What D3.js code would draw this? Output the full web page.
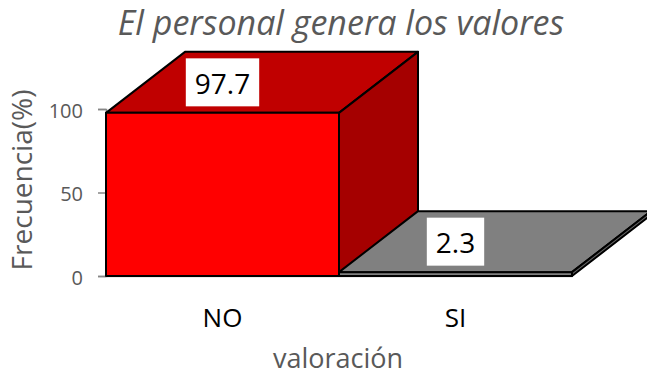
<!DOCTYPE html>
<html>
<head>
<meta charset="utf-8">
<script src="https://cdn.jsdelivr.net/npm/d3@7"></script>
<style>
html, body { margin: 0; padding: 0; background: #fff; overflow: hidden; }
svg { display: block; font-family: "Open Sans", sans-serif; }
</style>
</head>
<body>
<svg id="chart" width="647" height="373"></svg>
<script>
const categories = ["NO", "SI"];
const values = [97.7, 2.3];
const yTicks = [0, 50, 100];
const frontColors = ["#ff0000", "#808080"];
const topColors = ["#c00000", "#808080"];
const sideColors = ["#a50000", "#666666"];

const svg = d3.select("#chart");

const x = d3.scaleBand().domain(categories).range([106, 572]).padding(0);
const y = d3.scaleLinear().domain([0, 100]).range([276, 109]);

// profondeur de la 3d
const depthX = 79;
const depthY = -61;

// axe gauche
const yAxis = svg.append("g")
    .attr("transform", "translate(106,0)")
    .call(d3.axisLeft(y).tickValues(yTicks).tickSize(8).tickPadding(15).tickFormat(d3.format("d")));
yAxis.selectAll("path, line").attr("stroke", "#868686").attr("stroke-width", 1.5);
yAxis.selectAll("text")
    .attr("fill", "#595959")
    .attr("font-size", 20)
    .attr("font-family", "Open Sans")
    .attr("dy", "0.42em");

// axe du bas
const xAxis = svg.append("g")
    .attr("transform", "translate(0,276)")
    .call(d3.axisBottom(x).tickSize(0).tickPadding(33));
xAxis.select("path").attr("stroke", "#b0b0b0").attr("stroke-width", 1.5);
xAxis.selectAll("text").attr("fill", "#000").attr("font-size", 26).attr("font-family", "Open Sans");

const bars = svg.append("g")
    .selectAll("g")
    .data(categories)
    .enter()
    .append("g");

const outline = { stroke: "#000", width: 2 };

function poly(sel, pts, fill) {
    sel.append("polygon")
        .attr("points", pts.map(p => p.join(",")).join(" "))
        .attr("fill", fill)
        .attr("stroke", outline.stroke)
        .attr("stroke-width", outline.width)
        .attr("stroke-linejoin", "round");
}

bars.each(function (d, i) {
    const g = d3.select(this);
    const x0 = x(d);
    const x1 = x0 + x.bandwidth();
    const yTop = y(values[i]);
    const yBase = y(0);
    // face du dessus, côté, devant
    poly(g, [[x0, yTop], [x0 + depthX, yTop + depthY], [x1 + depthX, yTop + depthY], [x1, yTop]], topColors[i]);
    poly(g, [[x1, yTop], [x1 + depthX, yTop + depthY], [x1 + depthX, yBase + depthY], [x1, yBase]], sideColors[i]);
    poly(g, [[x0, yTop], [x1, yTop], [x1, yBase], [x0, yBase]], frontColors[i]);
});

// étiquettes
const labels = svg.append("g")
    .selectAll("g")
    .data(categories)
    .enter()
    .append("g")
    .attr("transform", (d, i) => `translate(${x(d) + x.bandwidth() / 2},${y(values[i]) + depthY / 2})`);

labels.append("text")
    .attr("text-anchor", "middle")
    .attr("dy", "0.4em")
    .attr("fill", "#000")
    .attr("font-size", 28)
    .text((d, i) => values[i]);

labels.insert("rect", "text")
    .each(function () {
        const b = this.parentNode.querySelector("text").getBBox();
        d3.select(this)
            .attr("x", b.x - 9)
            .attr("y", -24)
            .attr("width", b.width + 18)
            .attr("height", 48)
            .attr("fill", "#fff");
    });

svg.append("text")
    .attr("x", 341)
    .attr("y", 35)
    .attr("text-anchor", "middle")
    .attr("fill", "#595959")
    .attr("font-size", 34)
    .attr("font-style", "italic")
    .text("El personal genera los valores");

svg.append("text")
    .attr("x", 338)
    .attr("y", 368)
    .attr("text-anchor", "middle")
    .attr("fill", "#595959")
    .attr("font-size", 27)
    .text("valoración");

svg.append("text")
    .attr("transform", "translate(32,180) rotate(-90)")
    .attr("text-anchor", "middle")
    .attr("fill", "#595959")
    .attr("font-size", 28)
    .text("Frecuencia(%)");
</script>
</body>
</html>
